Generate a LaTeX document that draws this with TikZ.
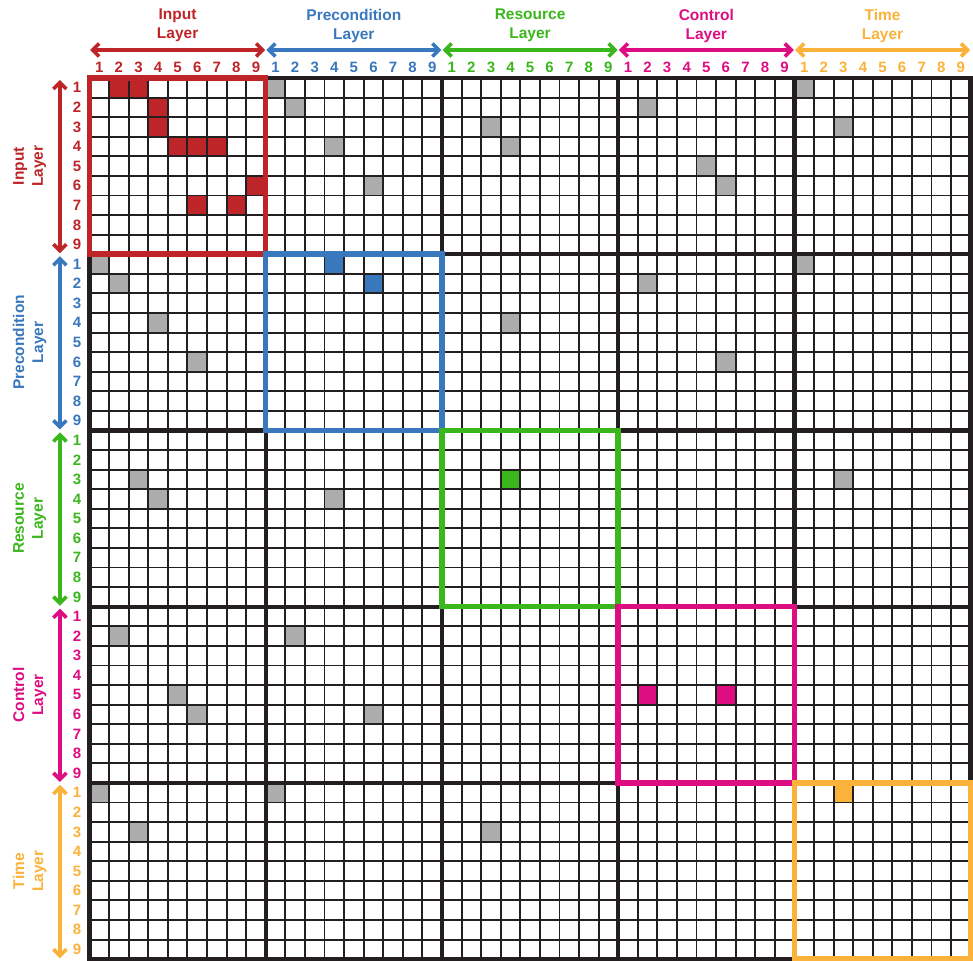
\documentclass[tikz,border=0pt]{standalone}
\usepackage{fontspec}
\setmainfont{Liberation Sans}
\usetikzlibrary{arrows.meta}
\definecolor{inred}{RGB}{190,37,40}
\definecolor{inblue}{RGB}{58,120,190}
\definecolor{ingreen}{RGB}{58,183,28}
\definecolor{inmagenta}{RGB}{222,14,130}
\definecolor{inorange}{RGB}{251,178,58}
\definecolor{cellgray}{RGB}{172,172,172}
\definecolor{gridblack}{RGB}{35,31,32}
\begin{document}
\begin{tikzpicture}[x=19.58pt, y=-19.58pt,
  gridthin/.style={line width=1.9pt, draw=gridblack},
  gridthick/.style={line width=4.4pt, draw=gridblack},
  layerbox/.style={line width=5.5pt},
  span/.style={line width=3.6pt, {Straight Barb[length=6.5pt,width=13pt]}-{Straight Barb[length=6.5pt,width=13pt]}},
  numlabel/.style={font=\bfseries\fontsize{15}{15}\selectfont, inner sep=0pt},
  titlelabel/.style={font=\bfseries\fontsize{15.5}{19}\selectfont, align=center, inner sep=0pt}]
  \useasboundingbox (-4.571,-3.984) rectangle (45.12,45.05);
  \fill[white] (-4.571,-3.984) rectangle (45.12,45.05);
  % shaded cells: row/column
  \foreach \r/\c in {1/10,1/37,2/11,2/29,3/21,3/39,4/13,4/22,5/32,6/15,6/33,
      10/1,10/37,11/2,11/29,13/4,13/22,15/6,15/33,21/3,21/39,22/4,22/13,
      29/2,29/11,32/5,33/6,33/15,37/1,37/10,39/3,39/21}
    \fill[cellgray] (\c-1,\r-1) rectangle (\c,\r);
  \foreach \r/\c/\col in {1/2/inred,1/3/inred,2/4/inred,3/4/inred,4/5/inred,4/6/inred,
      4/7/inred,6/9/inred,7/6/inred,7/8/inred,10/13/inblue,11/15/inblue,21/22/ingreen,
      32/29/inmagenta,32/33/inmagenta,37/39/inorange}
    \fill[\col] (\c-1,\r-1) rectangle (\c,\r);
  % grid
  \foreach \i in {0,...,45} {
    \draw[gridthin] (\i,0) -- (\i,45);
    \draw[gridthin] (0,\i) -- (45,\i);
  }
  \foreach \i in {9,18,27,36} {
    \draw[gridthick] (\i,0) -- (\i,45);
    \draw[gridthick] (0,\i) -- (45,\i);
  }
  \draw[gridthick] (0,0) rectangle (45,45);
  % layers
  \foreach \k/\name/\col in {0/Input/inred,1/Precondition/inblue,2/Resource/ingreen,
      3/Control/inmagenta,4/Time/inorange} {
    \draw[layerbox,\col] (9*\k,9*\k) rectangle (9*\k+9,9*\k+9);
    \node[titlelabel,text=\col] (top-\k) at (9*\k+4.5,-2.68) {\name\\Layer};
    \node[titlelabel,text=\col,rotate=90] (left-\k) at (-3.06,9*\k+4.5) {\name\\Layer};
    \coordinate (hs-\k) at (9*\k+0.03,-1.43);
    \coordinate (he-\k) at (9*\k+8.97,-1.43);
    \coordinate (vs-\k) at (-1.51,9*\k+0.1);
    \coordinate (ve-\k) at (-1.51,9*\k+8.95);
    \draw[span,\col] (hs-\k) -- (he-\k);
    \draw[span,\col] (vs-\k) -- (ve-\k);
    \foreach \n in {1,...,9} {
      \node[numlabel,text=\col] (col-\k-\n) at (9*\k+\n-0.5,-0.56) {\n};
      \node[numlabel,text=\col] (row-\k-\n) at (-0.64,9*\k+\n-0.5) {\n};
    }
  }
\end{tikzpicture}
\end{document}
